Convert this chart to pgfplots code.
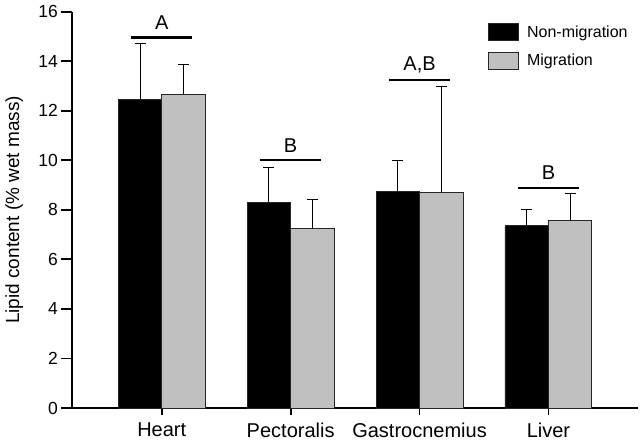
\documentclass[border=0pt]{standalone}
\usepackage{fontspec}
\setmainfont{Liberation Sans}
\usepackage{pgfplots}
\usepackage{pgfplotstable}
\pgfplotsset{compat=1.18}

\pgfplotstableread{
x y e
0 12.47 2.25
1 8.29 1.41
2 8.76 1.25
3 7.36 0.66
}\nonmig
\pgfplotstableread{
x y e
0 12.66 1.21
1 7.24 1.16
2 8.71 4.29
3 7.58 1.06
}\mig
\definecolor{barGray}{RGB}{192,192,192}
\pgfplotsset{boxlegend/.style={legend image code/.code={\draw[##1] (0pt,-8.5pt) rectangle (30pt,8.5pt);}}}

\begin{document}
\begin{tikzpicture}
\begin{axis}[
  scale only axis, width=565.7pt, height=396.3pt,
  xmin=-0.694, xmax=3.695, ymin=0, ymax=16,
  axis x line*=bottom, axis y line*=left,
  axis line style={line width=1.8pt, -},
  xtick={0,1,2,3}, xticklabels={Heart,Pectoralis,Gastrocnemius,Liver},
  ytick=\empty,
  extra y ticks={0,2,4,6,8,10,12,14,16},
  extra y tick style={major tick length=11pt, tick style={line width=1.8pt, black}},
  major tick length=7pt,
  tick style={line width=1.8pt, black},
  tick align=outside,
  /pgf/number format/assume math mode=true,
  x tick label style={font=\fontsize{20}{20}\selectfont, yshift=-4pt},
  y tick label style={font=\fontsize{17.5}{17.5}\selectfont},
  ylabel={Lipid content (\% wet mass)},
  every axis y label/.style={at={(rel axis cs:0,0.5)}, xshift=-58pt, rotate=90, anchor=center, font=\fontsize{19}{19}\selectfont},
  legend style={draw=none, fill=none, at={(rel axis cs:0.735,0.971)}, anchor=north west,
    inner sep=0pt, nodes={inner sep=0pt, font=\fontsize{16}{16}\selectfont}, column sep=8pt, row sep=10.6pt},
  legend cell align=left,
  clip=false,
]
\addplot[ybar, boxlegend, bar width=0.337, bar shift=0pt, fill=black, draw=black!85, line width=0.8pt,
  error bars/.cd, y dir=plus, y explicit, error mark=-,
  error bar style={line width=1pt, black},
  error mark options={rotate=90, line width=1pt, black, mark size=5.5pt}]
  table[x expr=\thisrow{x}-0.1685, y=y, y error=e]{\nonmig};
\addlegendentry{Non-migration}
\addplot[ybar, boxlegend, bar width=0.337, bar shift=0pt, fill=barGray, draw=black!85, line width=0.8pt,
  error bars/.cd, y dir=plus, y explicit, error mark=-,
  error bar style={line width=1pt, black},
  error mark options={rotate=90, line width=1pt, black, mark size=5.5pt}]
  table[x expr=\thisrow{x}+0.1685, y=y, y error=e]{\mig};
\addlegendentry{Migration}

\draw[line width=2.6pt] (axis cs:-0.237,14.96) -- (axis cs:0.237,14.96);
\node[font=\fontsize{20}{20}\selectfont] at (axis cs:0,15.56) {A};
\draw[line width=2.6pt] (axis cs:0.763,10.01) -- (axis cs:1.237,10.01);
\node[font=\fontsize{20}{20}\selectfont] at (axis cs:1,10.6) {B};
\draw[line width=2.6pt] (axis cs:1.763,13.24) -- (axis cs:2.237,13.24);
\node[font=\fontsize{20}{20}\selectfont] at (axis cs:2,13.85) {A,B};
\draw[line width=2.6pt] (axis cs:2.763,8.89) -- (axis cs:3.237,8.89);
\node[font=\fontsize{20}{20}\selectfont] at (axis cs:3,9.5) {B};
\end{axis}
\pgfresetboundingbox
\useasboundingbox (-72.3pt,-37pt) rectangle (567.7pt,408pt);
\end{tikzpicture}
\end{document}
